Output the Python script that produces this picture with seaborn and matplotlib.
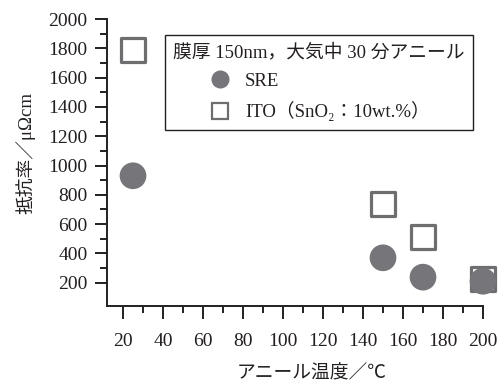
import matplotlib
matplotlib.use("Agg")
import matplotlib.pyplot as plt
from matplotlib.lines import Line2D
from matplotlib.legend_handler import HandlerLine2D
from matplotlib.ticker import FixedLocator
import seaborn as sns
import pandas as pd

# Annealing temperature (°C) and resistivity (μΩcm)
temps = [25, 150, 170, 200]
sre_rho = [930, 370, 238, 210]
ito_rho = [1790, 740, 515, 225]

x_major = list(range(20, 201, 20))
x_minor = list(range(30, 200, 20))
y_major = list(range(200, 2001, 200))
y_minor = list(range(300, 2000, 200))

sns.set_theme(style="ticks")
plt.rcParams["font.family"] = ["Liberation Serif", "Noto Sans CJK JP", "DejaVu Sans"]
ink = "#231f20"
plt.rcParams.update({
    "text.color": ink, "axes.labelcolor": ink,
    "xtick.color": ink, "ytick.color": ink, "axes.edgecolor": ink,
})

df_sre = pd.DataFrame({"temp": temps, "rho": sre_rho})
df_ito = pd.DataFrame({"temp": temps, "rho": ito_rho})

fig = plt.figure(figsize=(5.0, 3.81), dpi=100)
ax = fig.add_axes([0.214, 0.1976, 0.752, 0.7524])

circle_c = "#76767a"
square_c = "#6e6e70"

sns.scatterplot(data=df_ito, x="temp", y="rho", marker="s", s=300,
                facecolor="white", edgecolor=square_c, linewidth=2.3,
                ax=ax, zorder=3, legend=False, clip_on=False)
sns.scatterplot(data=df_sre, x="temp", y="rho", marker="o", s=370,
                color=circle_c, edgecolor="none", linewidth=0,
                ax=ax, zorder=4, legend=False, clip_on=False)

ax.set_xlim(12, 200)
ax.set_ylim(43, 2000)
ax.xaxis.set_major_locator(FixedLocator(x_major))
ax.xaxis.set_minor_locator(FixedLocator(x_minor))
ax.yaxis.set_major_locator(FixedLocator(y_major))
ax.yaxis.set_minor_locator(FixedLocator(y_minor))
ax.tick_params(which="major", length=9, width=1.4, labelsize=14, pad=5)
ax.tick_params(which="minor", length=5, width=1.4)
ax.tick_params(axis="x", pad=11)

sns.despine(ax=ax)
for side in ("left", "bottom"):
    ax.spines[side].set_linewidth(1.4)

ax.set_xlabel("アニール温度／℃", fontsize=13.5)
ax.set_ylabel("抵抗率／μΩcm", fontsize=13.5)
ax.xaxis.set_label_coords(0.543, -0.205)
ax.yaxis.set_label_coords(-0.19, 0.531)

handles = [
    Line2D([], [], linestyle="none", marker="o", markersize=13,
           markerfacecolor=circle_c, markeredgecolor="none"),
    Line2D([], [], linestyle="none", marker="s", markersize=11,
           markerfacecolor="white", markeredgecolor=square_c, markeredgewidth=1.6),
]
# shift legend markers right of the title's left edge
indent = HandlerLine2D(xpad=1.5)
leg = ax.legend(handles, ["SRE", "ITO（SnO₂：10wt.%）"],
                title="膜厚 150nm，大気中 30 分アニール",
                loc="upper left", bbox_to_anchor=(0.154, 0.944),
                fontsize=13.5, title_fontsize=13.5, frameon=True, fancybox=False,
                framealpha=1, edgecolor=ink, borderpad=0.45, borderaxespad=0,
                handlelength=3.5, handletextpad=0.32, labelspacing=0.6,
                alignment="left", handler_map={Line2D: indent})
leg.get_frame().set_linewidth(1.0)

fig.savefig("out.png", dpi=100)
